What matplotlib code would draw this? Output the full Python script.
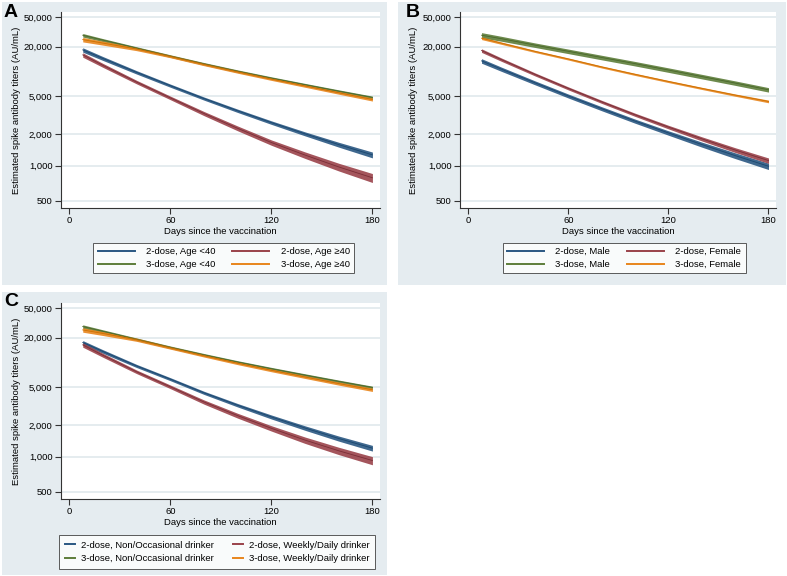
import numpy as np
import matplotlib
matplotlib.use('Agg')
import matplotlib.pyplot as plt
from matplotlib.patches import Rectangle
from matplotlib.lines import Line2D
from matplotlib.ticker import FixedLocator, FuncFormatter, NullLocator

plt.rcParams['font.family'] = ['Liberation Sans', 'DejaVu Sans']

days = [8, 20, 40, 60, 80, 100, 120, 140, 160, 180]
yticks = [500, 1000, 2000, 5000, 20000, 50000]

# panel A, by age
a_labels = ['2-dose, Age <40', '3-dose, Age <40', '2-dose, Age \u226540', '3-dose, Age \u226540']
a_2d_young = [18090, 14070, 9505, 6623, 4726, 3474, 2611, 2006, 1571, 1255]
a_3d_young = [28220, 24290, 19090, 15080, 12060, 9799, 8105, 6789, 5721, 4862]
a_2d_old = [15610, 11557, 7285, 4812, 3249, 2279, 1647, 1250, 972, 778]
a_3d_old = [24660, 22170, 18580, 14950, 11890, 9636, 7909, 6573, 5486, 4617]
# CI half-width, % of estimate
a_ci = [[6.5, 5.6, 4.7, 4.2, 4.0, 4.1, 4.2, 4.6, 5.4, 6.3],
        [5.5, 4.6, 3.9, 3.8, 3.7, 3.7, 3.6, 3.5, 3.5, 3.4],
        [6.5, 5.6, 4.8, 4.6, 5.1, 5.6, 6.0, 7.0, 8.0, 9.0],
        [6.8, 6.0, 4.9, 3.9, 3.8, 3.8, 3.7, 3.6, 3.7, 4.0]]

# panel B, by sex
b_labels = ['2-dose, Male', '3-dose, Male', '2-dose, Female', '3-dose, Female']
b_2d_male = [13130, 10360, 7152, 5051, 3661, 2705, 2048, 1575, 1236, 986]
b_3d_male = [28220, 25350, 20870, 17360, 14480, 12130, 10130, 8465, 7095, 5931]
b_2d_female = [17740, 13590, 8990, 6160, 4348, 3153, 2349, 1791, 1395, 1111]
b_3d_female = [25740, 22110, 17310, 13870, 11050, 8990, 7401, 6160, 5168, 4391]
b_ci = [[6.5, 5.9, 5.3, 5.1, 5.0, 4.9, 5.1, 5.6, 6.2, 6.6],
        [8.4, 7.5, 6.8, 6.7, 6.6, 6.4, 6.3, 6.2, 6.0, 5.9],
        [5.3, 4.8, 4.2, 4.0, 3.9, 3.9, 4.2, 4.7, 5.2, 5.7],
        [4.1, 3.6, 3.2, 3.1, 3.0, 3.0, 2.9, 2.9, 3.0, 3.4]]

# panel C, by drinking
c_labels = ['2-dose, Non/Occasional drinker', '3-dose, Non/Occasional drinker',
            '2-dose, Weekly/Daily drinker', '3-dose, Weekly/Daily drinker']
c_2d_non = [17260, 13280, 8842, 6193, 4348, 3193, 2411, 1865, 1474, 1195]
c_3d_non = [27960, 24140, 18970, 14990, 12060, 9853, 8193, 6893, 5839, 4986]
c_2d_weekly = [16080, 11920, 7538, 5076, 3457, 2485, 1853, 1423, 1130, 921]
c_3d_weekly = [25200, 22580, 18750, 14780, 11790, 9530, 7845, 6555, 5515, 4701]
c_ci = [[5.8, 5.1, 4.3, 4.0, 4.0, 4.2, 4.7, 5.1, 5.6, 6.1],
        [5.4, 4.6, 3.9, 3.8, 3.8, 3.7, 3.7, 3.6, 3.5, 3.4],
        [6.5, 5.6, 4.8, 4.7, 5.2, 5.7, 6.1, 7.0, 7.8, 8.4],
        [6.8, 6.0, 4.9, 4.0, 3.9, 3.9, 3.8, 3.8, 4.0, 4.3]]

colors = ['#2a5782', '#5d7d3a', '#9a424a', '#e8851c']
dark = ['#1a476f', '#4a682b', '#7a2e36', '#cc7000']
bg = '#e5ecf0'
grid = '#e3eaee'

W, H = 787, 576
fig = plt.figure(figsize=(W / 100, H / 100), dpi=100)


def px_box(x0, y0, x1, y1):
    return [x0 / W, 1 - y1 / H, (x1 - x0) / W, (y1 - y0) / H]


for (x0, y0, x1, y1) in [(2, 2, 387, 285), (398, 2, 786, 285), (2, 292, 387, 575)]:
    b = px_box(x0, y0, x1, y1)
    fig.add_artist(Rectangle((b[0], b[1]), b[2], b[3], transform=fig.transFigure,
                             facecolor=bg, edgecolor='none', zorder=-5))


def fwd(v):
    v = np.clip(np.asarray(v, dtype=float), 1.0001, None)
    return np.log(np.log(v))


def inv(u):
    return np.exp(np.exp(u))


def panel(box, letter, series, cis, labels, leg_x, leg_y, ylab_x, letter_xy, leg_kw):
    ax = fig.add_axes(px_box(*box))
    ax.set_yscale('function', functions=(fwd, inv))
    ax.set_ylim(435, 59500)
    ax.set_xlim(-4.9, 184.5)
    ax.yaxis.set_major_locator(FixedLocator(yticks))
    ax.yaxis.set_minor_locator(NullLocator())
    ax.yaxis.set_major_formatter(FuncFormatter(lambda v, p: f'{v:,.0f}'))
    ax.set_xticks([0, 60, 120, 180])
    for y in yticks:
        ax.axhline(y, color=grid, lw=1.3, zorder=0)
    for s in ['top', 'right']:
        ax.spines[s].set_visible(False)
    for s in ['left', 'bottom']:
        ax.spines[s].set_linewidth(0.8)
        ax.spines[s].set_color('#333333')
    ax.tick_params(length=4.5, width=0.8, pad=1.5, labelsize=6.8, color='#333333')
    order = [0, 2, 1, 3]
    for i in order:
        mid = np.array(series[i], dtype=float)
        pct = np.array(cis[i]) / 100
        ax.fill_between(days, mid * (1 - pct), mid * (1 + pct), color=colors[i],
                        alpha=0.9, lw=0, zorder=2)
        ax.plot(days, mid, color=dark[i], lw=0.6, zorder=3)
    ax.set_xlabel('Days since the vaccination', fontsize=6.8, labelpad=1)
    ax.set_ylabel('Estimated spike antibody titers (AU/mL)', fontsize=6.8)
    ax.yaxis.set_label_coords(ylab_x, 0.5)
    handles = [Line2D([], [], color=colors[i], lw=1.4) for i in range(4)]
    leg = ax.legend(handles, labels, ncol=2, loc='upper center',
                    bbox_to_anchor=(leg_x, leg_y), fontsize=6.8, frameon=True,
                    fancybox=False, edgecolor='#333333', labelspacing=0.45,
                    **leg_kw)
    leg.get_frame().set_linewidth(0.7)
    fig.text(letter_xy[0] / W, 1 - letter_xy[1] / H, letter, fontsize=14,
             fontweight='bold', ha='left', va='baseline')
    return ax


wide = dict(handlelength=3.9, handletextpad=1.2, columnspacing=1.8, borderpad=0.45)
short = dict(handlelength=1.1, handletextpad=0.6, columnspacing=2.0, borderpad=0.6)

panel((61, 12, 380, 208), 'A', [a_2d_young, a_3d_young, a_2d_old, a_3d_old], a_ci,
      a_labels, 0.51, -0.153, -0.125, (4, 17), wide)
panel((460, 12, 776, 208), 'B', [b_2d_male, b_3d_male, b_2d_female, b_3d_female], b_ci,
      b_labels, 0.52, -0.153, -0.132, (406, 17), wide)
panel((61, 303, 380, 499), 'C', [c_2d_non, c_3d_non, c_2d_weekly, c_3d_weekly], c_ci,
      c_labels, 0.49, -0.16, -0.125, (4, 306), short)

fig.savefig('out.png', dpi=100)
